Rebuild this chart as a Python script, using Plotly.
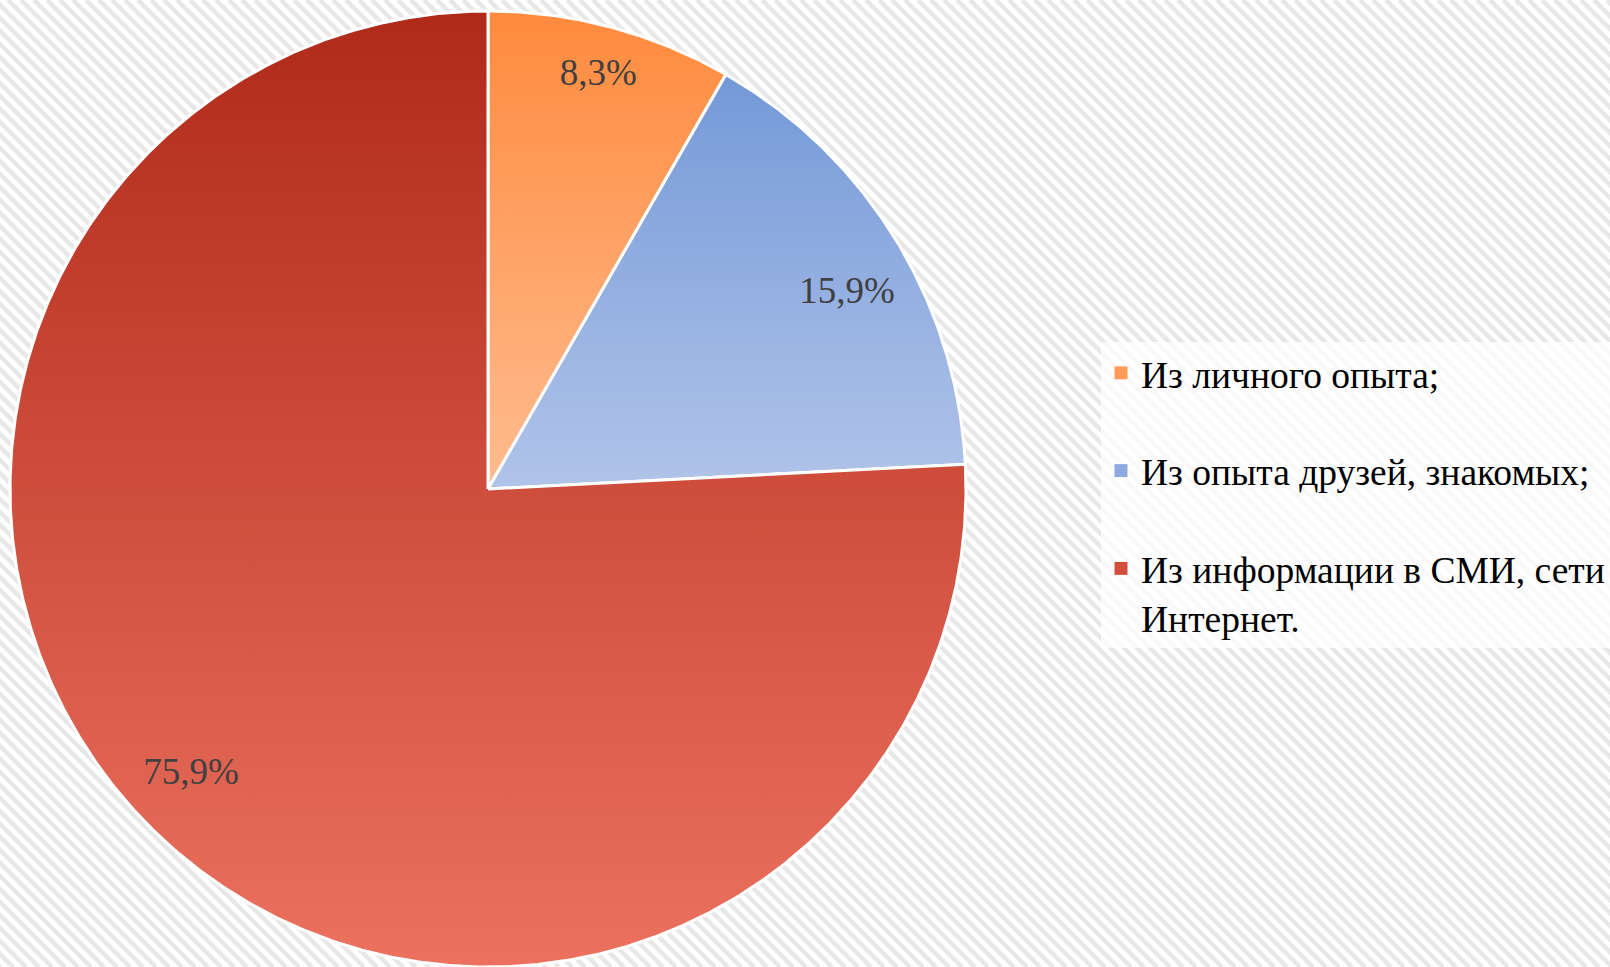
import numpy as np
import plotly.graph_objects as go

# ---- data ----
categories = ["Из личного опыта;", "Из опыта друзей, знакомых;", "Из информации в СМИ, сети<br>Интернет."]
values = [8.3, 15.9, 75.9]
value_labels = ["8,3%", "15,9%", "75,9%"]

# ---- style ----
grad_top = ["#FF8A3D", "#7499D8", "#B02A19"]
grad_bottom = ["#FFBC90", "#B1C4E9", "#EC715F"]
legend_colors = ["#FF9A58", "#8EA9E0", "#D24F3B"]
label_rfrac = [0.895, 0.855, 0.862]
label_dangle = [0.0, 3.0, 2.6]  # degrees

W, H = 1610, 967
cx, cy, R = 488, 478, 478

fig = go.Figure()

# background hatch (decoration)
shapes = []
step = 13
for x0 in range(-H, W + step, step):
    shapes.append(dict(type="line", xref="x", yref="y", x0=x0, y0=H, x1=x0 + H, y1=0,
                       line=dict(color="#E7E7E7", width=4.5), layer="below"))

total = sum(values)
cum = 0.0
for i, v in enumerate(values):
    frac = v / total
    a0 = 2 * np.pi * cum
    a1 = 2 * np.pi * (cum + frac)
    n = max(int(frac * 900), 6)
    th = np.linspace(a0, a1, n)
    xs = np.concatenate([[cx], cx + R * np.sin(th), [cx]])
    ys = np.concatenate([[cy], cy + R * np.cos(th), [cy]])
    fig.add_trace(go.Scatter(
        x=xs, y=ys, mode="lines", fill="toself",
        line=dict(color="white", width=3),
        fillgradient=dict(type="vertical", colorscale=[[0, grad_bottom[i]], [1, grad_top[i]]]),
        showlegend=False, hoverinfo="skip"))
    cum += frac

# value labels
cum = 0.0
lx, ly = [], []
for i, v in enumerate(values):
    frac = v / total
    mid = 2 * np.pi * (cum + frac / 2) + np.radians(label_dangle[i])
    lx.append(cx + label_rfrac[i] * R * np.sin(mid))
    ly.append(cy + label_rfrac[i] * R * np.cos(mid))
    cum += frac
fig.add_trace(go.Scatter(x=lx, y=ly, mode="text", text=value_labels,
                         textfont=dict(family="Liberation Serif", size=37, color="#404040"),
                         showlegend=False, hoverinfo="skip"))

# legend entries
for i, c in enumerate(categories):
    fig.add_trace(go.Scatter(x=[None], y=[None], mode="markers", name=c,
                             legendgroup=str(i),
                             marker=dict(symbol="square", size=14, color=legend_colors[i],
                                         line=dict(color="white", width=1))))

fig.update_layout(
    autosize=True,
    margin=dict(l=0, r=0, t=0, b=0),
    paper_bgcolor="white", plot_bgcolor="white",
    xaxis=dict(range=[0, W], visible=False, fixedrange=True),
    yaxis=dict(range=[0, H], visible=False, fixedrange=True),
    shapes=shapes,
    showlegend=True,
    legend=dict(x=1101 / W, y=1 - 342 / H, xanchor="left", yanchor="top",
                bgcolor="rgba(255,255,255,0.75)",
                font=dict(family="Liberation Serif", size=37.5, color="black"),
                tracegroupgap=46, valign="top", traceorder="grouped"),
)

fig.write_html(
    "out.html",
    config={"displayModeBar": False, "responsive": True},
    default_width="100vw",
    default_height="100vh",
    post_script="document.body.style.margin='0';document.body.style.overflow='hidden';"
                "Plotly.Plots.resize(document.getElementById('{plot_id}'));",
)
